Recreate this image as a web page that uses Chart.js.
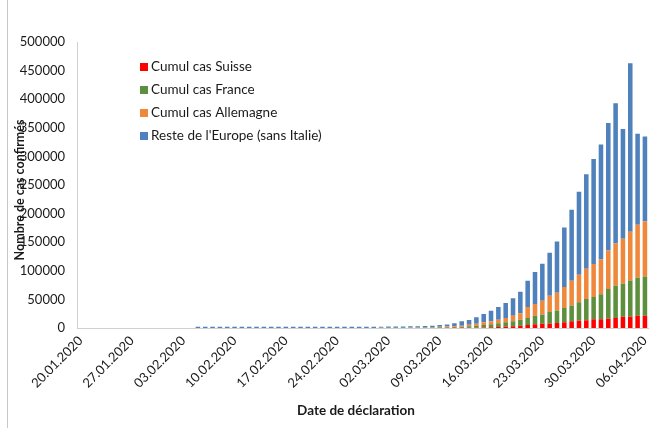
<!DOCTYPE html>
<html><head><meta charset="utf-8">
<script src="https://cdn.jsdelivr.net/npm/chart.js@4"></script>
<style>html,body{margin:0;padding:0;background:#fff;}#wrap{width:661px;height:428px;position:relative;}</style>
</head><body><div id="wrap"><canvas id="c" width="661" height="428"></canvas></div>
<script>
const dates = ["20.01.2020","21.01.2020","22.01.2020","23.01.2020","24.01.2020","25.01.2020","26.01.2020","27.01.2020","28.01.2020","29.01.2020","30.01.2020","31.01.2020",
"01.02.2020","02.02.2020","03.02.2020","04.02.2020","05.02.2020","06.02.2020","07.02.2020","08.02.2020","09.02.2020","10.02.2020","11.02.2020","12.02.2020","13.02.2020","14.02.2020","15.02.2020","16.02.2020","17.02.2020","18.02.2020","19.02.2020","20.02.2020","21.02.2020","22.02.2020","23.02.2020","24.02.2020","25.02.2020","26.02.2020","27.02.2020","28.02.2020","29.02.2020",
"01.03.2020","02.03.2020","03.03.2020","04.03.2020","05.03.2020","06.03.2020","07.03.2020","08.03.2020","09.03.2020","10.03.2020","11.03.2020","12.03.2020","13.03.2020","14.03.2020","15.03.2020","16.03.2020","17.03.2020","18.03.2020","19.03.2020","20.03.2020","21.03.2020","22.03.2020","23.03.2020","24.03.2020","25.03.2020","26.03.2020","27.03.2020","28.03.2020","29.03.2020","30.03.2020","31.03.2020",
"01.04.2020","02.04.2020","03.04.2020","04.04.2020","05.04.2020","06.04.2020"];
const tickEvery = 7;
const N = null;
const cumulSuisse = [N,N,N,N,N,N,N,N,N,N,N,N,N,N,N,N,N,N,N,N,N,N,N,N,N,N,N,N,N,N,N,N,N,N,N,N,
1,2,8,10,15,20,30,40,50,60,90,110,140,170,230,290,350,500,600,900,1200,1700,2300,2900,4100,5200,6400,7600,7900,8700,9900,11600,12800,13400,15100,15400,16000,17500,19800,19800,21500,21500];
const cumulFrance = [N,N,N,N,N,3,3,3,4,5,5,6,6,6,6,6,6,6,6,11,11,11,11,11,11,11,12,12,12,12,12,12,12,12,12,12,
14,18,38,57,100,130,191,212,285,350,470,580,760,930,1150,1450,1750,2400,3500,4400,5200,6400,7600,8700,10500,12200,15100,15700,20100,22100,25000,27900,32000,37300,39000,43700,52400,56500,57600,63400,66400,68700];
const cumulAllemagne = [N,N,N,N,N,N,N,N,4,4,5,5,7,10,12,12,12,13,13,14,14,14,16,16,16,16,16,16,16,16,16,16,16,16,16,16,
16,21,26,53,66,117,150,188,240,350,470,580,700,930,1150,1450,2000,2900,3500,4700,5200,6400,7600,9900,11100,19200,20400,24400,28500,30800,36700,43100,48300,53000,57600,61100,66900,73900,78600,85000,92600,96000];
const resteEurope = [N,N,N,N,N,N,N,N,N,N,N,N,N,N,N,N,10,12,15,18,20,22,25,25,26,27,28,28,28,28,28,29,30,32,35,45,
60,90,150,200,250,320,400,500,600,900,1200,1700,2400,3200,3800,5000,7600,8100,11100,14600,18600,22100,26200,30300,37800,46000,55900,64600,75100,89600,104200,124000,144900,165300,183900,200800,222900,245100,192100,294500,158900,148400];
const seriesLabels = ["Cumul cas Suisse","Cumul cas France","Cumul cas Allemagne","Reste de l'Europe (sans Italie)"];
const seriesColors = ["#FF0000","#5E8F3D","#F0883B","#4F81BD"];
const yMax = 500000, yStep = 50000;
const xTitle = "Date de déclaration";
const yTitle = "Nombre de cas confirmés";
const FONT = "Lato, 'Liberation Sans', sans-serif";

const deco = {
  id: 'deco',
  beforeDraw(chart) {
    const c = chart.ctx;
    c.save();
    c.fillStyle = '#fff';
    c.fillRect(0, 0, chart.width, chart.height);
    c.strokeStyle = '#c8c8c8';
    c.lineWidth = 1;
    c.beginPath(); c.moveTo(7.5, 0); c.lineTo(7.5, chart.height); c.stroke();
    c.restore();
  },
  afterDraw(chart) {
    const c = chart.ctx;
    c.save();
    c.font = "13.5px " + FONT;
    c.textBaseline = 'middle';
    c.textAlign = 'left';
    seriesLabels.forEach((lab, i) => {
      const y = 67 + i * 23;
      c.fillStyle = seriesColors[i];
      c.fillRect(140, y - 4, 8, 8);
      c.fillStyle = '#1a1a1a';
      c.fillText(lab, 151, y);
    });
    c.font = "bold 13.5px " + FONT;
    c.fillStyle = '#1a1a1a';
    c.textAlign = 'center';
    c.fillText(xTitle, 356, 411);
    c.font = "bold 12.5px " + FONT;
    c.translate(20, 190);
    c.rotate(-Math.PI / 2);
    c.fillText(yTitle, 0, 0);
    c.restore();
  }
};

const datasets = [cumulSuisse, cumulFrance, cumulAllemagne, resteEurope].map((d, i) => ({
  label: seriesLabels[i], data: d, backgroundColor: seriesColors[i], borderWidth: 0,
  barPercentage: 0.62, categoryPercentage: 1, minBarLength: i === 3 ? 1.2 : 0
}));

new Chart(document.getElementById('c'), {
  type: 'bar',
  data: { labels: dates, datasets },
  options: {
    responsive: false, animation: false, devicePixelRatio: 1,
    layout: { padding: { top: 42, right: 7, bottom: 0, left: 0 } },
    plugins: { legend: { display: false }, tooltip: { enabled: false }, title: { display: false } },
    scales: {
      x: {
        stacked: true,
        grid: { display: false, drawTicks: false },
        border: { display: true, color: '#d0d0d0', width: 1 },
        ticks: {
          autoSkip: false, maxRotation: 45, minRotation: 45, padding: 5,
          color: '#1a1a1a', font: { family: FONT, size: 13 },
          callback: function (v, i) { return i % tickEvery === 0 ? this.getLabelForValue(v) : ''; }
        },
        afterFit(s) { s.height = 100; }
      },
      y: {
        stacked: true, min: 0, max: yMax,
        grid: { display: false, drawTicks: false },
        border: { display: true, color: '#d0d0d0', width: 1 },
        ticks: { stepSize: yStep, padding: 12, color: '#1a1a1a', font: { family: FONT, size: 13 }, callback: v => String(v) },
        afterFit(s) { s.width = 77; }
      }
    }
  },
  plugins: [deco]
});
</script></body></html>
